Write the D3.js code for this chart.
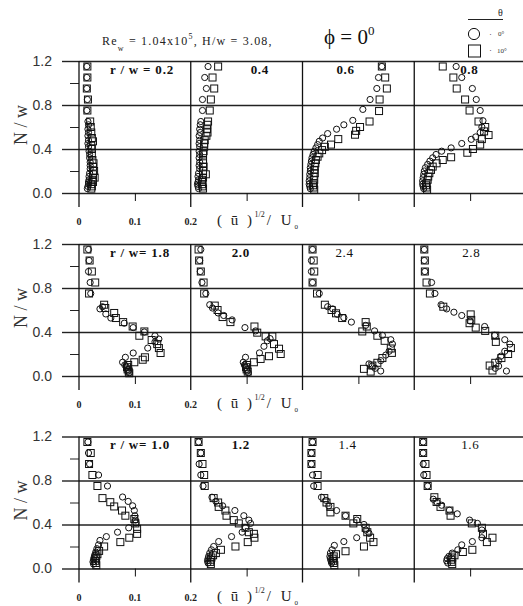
<!DOCTYPE html>
<html><head><meta charset="utf-8">
<script src="https://cdn.jsdelivr.net/npm/d3@7/dist/d3.min.js"></script>
<style>body{margin:0;background:#fff}svg{display:block}</style>
</head><body>
<script>
// Axis ticks and labels
const yMajor = [0, 0.4, 0.8, 1.2];
const yMinor = [0.2, 0.6, 1.0];
const yTickLabels = ["0.0", "0.4", "0.8", "1.2"];
const xTickValues = [0, 0.1, 0.2];
const xTickLabels = ["0", "0.1", "0.2"];
const rowRadii = [["0.2", "0.4", "0.6", "0.8"], ["1.8", "2.0", "2.4", "2.8"], ["1.0", "1.2", "1.4", "1.6"]];

// Profiles, each point is [N/w, (u)^1/2/U0]; c = theta 0 deg, s = theta 10 deg
const c02 = [[1.15,0.014],[1.05,0.014],[0.95,0.014],[0.85,0.015],[0.75,0.014],[0.65,0.016],[0.62,0.017],[0.58,0.016],[0.55,0.017],[0.52,0.016],[0.48,0.017],[0.45,0.016],[0.42,0.017],[0.38,0.018],[0.35,0.019],[0.32,0.019],[0.28,0.02],[0.25,0.02],[0.22,0.02],[0.18,0.019],[0.15,0.018],[0.12,0.018],[0.1,0.017],[0.08,0.017],[0.06,0.016],[0.04,0.015]];
const s02 = [[1.15,0.015],[1.05,0.015],[0.95,0.014],[0.85,0.016],[0.75,0.015],[0.65,0.02],[0.6,0.021],[0.55,0.022],[0.5,0.023],[0.47,0.025],[0.43,0.022],[0.4,0.023],[0.35,0.023],[0.3,0.024],[0.27,0.026],[0.24,0.025],[0.2,0.027],[0.17,0.025],[0.14,0.028],[0.12,0.024],[0.1,0.025],[0.08,0.022],[0.06,0.023],[0.04,0.022]];
const c04 = [[1.15,0.031],[1.05,0.025],[0.95,0.028],[0.85,0.021],[0.75,0.021],[0.65,0.018],[0.62,0.017],[0.58,0.016],[0.55,0.017],[0.52,0.015],[0.48,0.016],[0.45,0.015],[0.42,0.016],[0.38,0.015],[0.35,0.016],[0.32,0.015],[0.28,0.016],[0.25,0.015],[0.22,0.016],[0.18,0.014],[0.15,0.013],[0.12,0.014],[0.1,0.013],[0.08,0.012],[0.06,0.013],[0.04,0.014]];
const s04 = [[1.15,0.049],[1.05,0.039],[0.95,0.042],[0.85,0.036],[0.75,0.034],[0.65,0.031],[0.62,0.03],[0.58,0.029],[0.55,0.03],[0.52,0.028],[0.48,0.025],[0.45,0.024],[0.42,0.024],[0.38,0.023],[0.35,0.022],[0.3,0.022],[0.27,0.022],[0.24,0.023],[0.2,0.022],[0.17,0.027],[0.14,0.022],[0.12,0.02],[0.1,0.021],[0.08,0.02],[0.06,0.021],[0.04,0.022]];
const c06 = [[1.15,0.142],[1.05,0.136],[0.95,0.133],[0.85,0.121],[0.76,0.108],[0.66,0.09],[0.62,0.074],[0.58,0.061],[0.54,0.045],[0.5,0.036],[0.47,0.03],[0.44,0.027],[0.41,0.024],[0.38,0.021],[0.35,0.019],[0.32,0.017],[0.29,0.016],[0.26,0.015],[0.23,0.014],[0.2,0.014],[0.17,0.013],[0.14,0.013],[0.11,0.012],[0.08,0.012],[0.06,0.013],[0.04,0.014]];
const s06 = [[1.15,0.142],[1.05,0.148],[0.95,0.151],[0.85,0.138],[0.745,0.137],[0.65,0.12],[0.6,0.103],[0.565,0.096],[0.53,0.094],[0.49,0.064],[0.44,0.051],[0.42,0.04],[0.39,0.035],[0.36,0.03],[0.33,0.027],[0.3,0.024],[0.27,0.023],[0.24,0.022],[0.21,0.021],[0.18,0.022],[0.15,0.02],[0.12,0.021],[0.09,0.02],[0.07,0.019],[0.05,0.02],[0.03,0.021]];
const c08 = [[1.15,0.075],[1.05,0.085],[0.95,0.104],[0.85,0.111],[0.75,0.118],[0.657,0.123],[0.6,0.121],[0.55,0.118],[0.51,0.11],[0.488,0.102],[0.45,0.085],[0.41,0.066],[0.38,0.049],[0.35,0.039],[0.32,0.033],[0.29,0.028],[0.26,0.024],[0.23,0.02],[0.2,0.018],[0.17,0.017],[0.14,0.016],[0.11,0.015],[0.08,0.015],[0.06,0.016],[0.04,0.017]];
const s08 = [[1.15,0.051],[1.05,0.07],[0.95,0.076],[0.85,0.091],[0.75,0.099],[0.65,0.115],[0.6,0.127],[0.56,0.125],[0.527,0.133],[0.49,0.121],[0.44,0.118],[0.4,0.105],[0.366,0.095],[0.325,0.066],[0.3,0.051],[0.27,0.04],[0.24,0.033],[0.21,0.03],[0.18,0.027],[0.15,0.025],[0.12,0.024],[0.09,0.022],[0.07,0.021],[0.05,0.022],[0.03,0.023]];

const c18 = [[1.15,0.017],[1.05,0.018],[0.95,0.017],[0.85,0.02],[0.75,0.021],[0.63,0.042],[0.61,0.0375],[0.564,0.048],[0.527,0.057],[0.48,0.081],[0.44,0.097],[0.4,0.117],[0.366,0.136],[0.336,0.143],[0.31,0.136],[0.254,0.123],[0.209,0.097],[0.17,0.083],[0.125,0.078],[0.1,0.082],[0.08,0.085],[0.06,0.087],[0.045,0.088],[0.03,0.09]];
const s18 = [[1.15,0.015],[1.05,0.019],[0.95,0.023],[0.85,0.029],[0.75,0.018],[0.648,0.045],[0.618,0.047],[0.573,0.063],[0.527,0.066],[0.49,0.079],[0.45,0.096],[0.405,0.117],[0.366,0.108],[0.327,0.13],[0.29,0.14],[0.254,0.143],[0.209,0.146],[0.17,0.118],[0.148,0.114],[0.125,0.099],[0.1,0.088],[0.08,0.086],[0.06,0.087],[0.04,0.089],[0.025,0.09]];
const c20 = [[1.15,0.018],[1.05,0.016],[0.95,0.017],[0.85,0.02],[0.75,0.027],[0.648,0.034],[0.618,0.039],[0.573,0.049],[0.55,0.059],[0.51,0.074],[0.44,0.097],[0.41,0.116],[0.34,0.142],[0.32,0.137],[0.27,0.131],[0.21,0.123],[0.17,0.098],[0.125,0.094],[0.1,0.096],[0.08,0.098],[0.06,0.1],[0.045,0.101],[0.03,0.103]];
const s20 = [[1.15,0.014],[1.05,0.015],[0.95,0.018],[0.85,0.023],[0.75,0.024],[0.64,0.043],[0.6,0.048],[0.536,0.057],[0.49,0.071],[0.45,0.114],[0.394,0.119],[0.36,0.134],[0.36,0.146],[0.29,0.149],[0.248,0.158],[0.2,0.161],[0.18,0.14],[0.155,0.125],[0.125,0.113],[0.1,0.101],[0.08,0.099],[0.06,0.1],[0.04,0.102]];
const c24 = [[1.15,0.018],[1.05,0.016],[0.95,0.016],[0.85,0.018],[0.75,0.03],[0.63,0.045],[0.61,0.054],[0.56,0.0625],[0.53,0.074],[0.49,0.0875],[0.46,0.113],[0.41,0.129],[0.37,0.143],[0.33,0.158],[0.29,0.161],[0.225,0.155],[0.19,0.149],[0.14,0.14],[0.11,0.119],[0.09,0.125],[0.07,0.13],[0.045,0.14]];
const s24 = [[1.15,0.018],[1.05,0.02],[0.95,0.021],[0.85,0.018],[0.75,0.026],[0.648,0.04],[0.6,0.052],[0.57,0.06],[0.527,0.071],[0.49,0.113],[0.45,0.115],[0.405,0.107],[0.366,0.134],[0.32,0.147],[0.25,0.158],[0.21,0.16],[0.163,0.143],[0.12,0.134],[0.095,0.125],[0.065,0.11],[0.04,0.122]];
const c28 = [[1.15,0.018],[1.05,0.018],[0.95,0.019],[0.85,0.031],[0.75,0.037],[0.648,0.048],[0.61,0.058],[0.58,0.071],[0.55,0.085],[0.5,0.1],[0.45,0.126],[0.37,0.144],[0.33,0.162],[0.29,0.171],[0.225,0.162],[0.18,0.155],[0.14,0.151],[0.09,0.151],[0.07,0.145],[0.045,0.165]];
const s28 = [[1.15,0.018],[1.05,0.019],[0.95,0.019],[0.85,0.022],[0.75,0.028],[0.63,0.052],[0.56,0.101],[0.51,0.102],[0.48,0.099],[0.44,0.11],[0.41,0.127],[0.366,0.145],[0.31,0.146],[0.254,0.173],[0.2,0.168],[0.163,0.156],[0.12,0.145],[0.095,0.135],[0.05,0.14]];

const c10 = [[1.15,0.016],[1.05,0.017],[0.95,0.019],[0.85,0.035],[0.75,0.051],[0.65,0.078],[0.61,0.088],[0.57,0.096],[0.527,0.099],[0.48,0.1],[0.44,0.101],[0.415,0.102],[0.37,0.089],[0.33,0.069],[0.29,0.049],[0.255,0.0375],[0.215,0.035],[0.18,0.032],[0.15,0.03],[0.12,0.028],[0.1,0.027],[0.08,0.026],[0.06,0.025],[0.04,0.026]];
const s10 = [[1.15,0.015],[1.05,0.021],[0.95,0.018],[0.85,0.024],[0.75,0.033],[0.64,0.042],[0.603,0.056],[0.564,0.063],[0.527,0.077],[0.48,0.083],[0.45,0.099],[0.41,0.101],[0.36,0.104],[0.315,0.104],[0.28,0.09],[0.24,0.074],[0.2,0.045],[0.16,0.036],[0.13,0.033],[0.11,0.031],[0.09,0.03],[0.07,0.029],[0.05,0.03],[0.03,0.031]];
const c12 = [[1.15,0.014],[1.05,0.018],[0.95,0.015],[0.85,0.018],[0.75,0.022],[0.648,0.038],[0.61,0.045],[0.57,0.057],[0.527,0.079],[0.48,0.095],[0.44,0.104],[0.41,0.107],[0.37,0.098],[0.33,0.092],[0.29,0.073],[0.245,0.05],[0.2,0.041],[0.17,0.037],[0.14,0.034],[0.11,0.032],[0.09,0.031],[0.07,0.03],[0.05,0.031]];
const s12 = [[1.15,0.014],[1.05,0.018],[0.95,0.021],[0.85,0.024],[0.75,0.025],[0.64,0.041],[0.6,0.049],[0.56,0.05],[0.527,0.062],[0.48,0.064],[0.44,0.077],[0.41,0.086],[0.37,0.098],[0.33,0.104],[0.315,0.113],[0.28,0.114],[0.24,0.102],[0.2,0.08],[0.17,0.054],[0.14,0.045],[0.12,0.04],[0.1,0.037],[0.08,0.036],[0.06,0.035],[0.04,0.036]];
const c14 = [[1.15,0.018],[1.05,0.016],[0.95,0.016],[0.85,0.018],[0.75,0.02],[0.648,0.034],[0.62,0.042],[0.57,0.047],[0.527,0.061],[0.48,0.077],[0.44,0.097],[0.4,0.11],[0.35,0.113],[0.32,0.119],[0.28,0.097],[0.245,0.074],[0.21,0.057],[0.17,0.053],[0.14,0.05],[0.11,0.049],[0.09,0.05],[0.07,0.051],[0.05,0.052]];
const s14 = [[1.15,0.018],[1.05,0.016],[0.95,0.016],[0.85,0.027],[0.75,0.027],[0.64,0.039],[0.6,0.043],[0.56,0.05],[0.51,0.05],[0.48,0.077],[0.45,0.098],[0.41,0.091],[0.37,0.113],[0.33,0.116],[0.28,0.121],[0.24,0.127],[0.2,0.11],[0.157,0.077],[0.13,0.06],[0.11,0.056],[0.09,0.054],[0.07,0.055],[0.05,0.056],[0.03,0.057]];
const c16 = [[1.15,0.016],[1.05,0.016],[0.95,0.016],[0.85,0.017],[0.75,0.024],[0.63,0.034],[0.6,0.041],[0.575,0.049],[0.53,0.063],[0.497,0.077],[0.44,0.099],[0.41,0.113],[0.35,0.121],[0.28,0.121],[0.245,0.104],[0.215,0.085],[0.17,0.078],[0.14,0.068],[0.11,0.062],[0.09,0.059],[0.07,0.058],[0.05,0.06]];
const s16 = [[1.15,0.016],[1.05,0.016],[0.95,0.02],[0.85,0.022],[0.75,0.024],[0.648,0.036],[0.605,0.04],[0.56,0.047],[0.527,0.063],[0.48,0.065],[0.41,0.103],[0.37,0.121],[0.315,0.123],[0.28,0.14],[0.24,0.13],[0.17,0.104],[0.15,0.087],[0.12,0.072],[0.1,0.068],[0.08,0.066],[0.06,0.067],[0.04,0.068]];

const profiles = {
  "0.2": [c02, s02], "0.4": [c04, s04], "0.6": [c06, s06], "0.8": [c08, s08],
  "1.8": [c18, s18], "2.0": [c20, s20], "2.4": [c24, s24], "2.8": [c28, s28],
  "1.0": [c10, s10], "1.2": [c12, s12], "1.4": [c14, s14], "1.6": [c16, s16]
};

// Layout
const W = 523, H = 606;
const rowBottoms = [193, 376, 568.5];
const rowHeight = 132;
const panelLeft = d3.scaleLinear().domain([0, 4]).range([79, 526]);
const labelDx = [[0, 60, 34, 46], [0, 41, 33, 48], [0, 41, 36, 47]];
const boldLabel = [[true, true, true, true], [true, true, false, false], [true, true, false, false]];
const serif = "'Liberation Serif', 'Times New Roman', serif";
const sans = "'Liberation Sans', Arial, sans-serif";

const svg = d3.select("body").append("svg").attr("width", W).attr("height", H);

rowRadii.forEach((radii, ri) => {
  const bottom = rowBottoms[ri];
  const y = d3.scaleLinear().domain([0, 1.2]).range([bottom, bottom - rowHeight]);
  const g = svg.append("g");

  // horizontal grid lines across all panels
  g.append("g").attr("transform", "translate(79,0)")
    .call(d3.axisLeft(y).tickValues(yMajor).tickSize(-(W - 79)).tickFormat(""))
    .call(a => a.select(".domain").remove())
    .call(a => a.selectAll("line").attr("stroke", "#222").attr("stroke-width", 1.4));

  // labelled y ticks
  g.append("g").attr("transform", "translate(79,0)")
    .call(d3.axisLeft(y).tickValues(yMajor).tickSize(17).tickPadding(10)
      .tickFormat((d, i) => yTickLabels[i]))
    .call(a => a.select(".domain").remove())
    .call(a => a.selectAll("line").attr("stroke", "#222").attr("stroke-width", 1.4))
    .call(a => a.selectAll("text").attr("font-family", sans).attr("font-size", 14).attr("fill", "#333"));

  // minor y ticks
  g.append("g").attr("transform", "translate(79,0)")
    .call(d3.axisLeft(y).tickValues(yMinor).tickSize(9).tickFormat(""))
    .call(a => a.select(".domain").remove())
    .call(a => a.selectAll("line").attr("stroke", "#222").attr("stroke-width", 1));

  // y title
  g.append("text")
    .attr("transform", `translate(27,${bottom - 68}) rotate(-90)`)
    .attr("text-anchor", "middle")
    .attr("font-family", serif).attr("font-size", 18).attr("fill", "#333")
    .text("N / w");

  radii.forEach((r, pi) => {
    const left = panelLeft(pi);
    const x = d3.scaleLinear().domain([0, 0.2]).range([left, panelLeft(pi + 1)]);

    // panel separator
    g.append("line")
      .attr("x1", left).attr("x2", left)
      .attr("y1", y(1.2)).attr("y2", bottom + 14)
      .attr("stroke", "#111").attr("stroke-width", 1.3);

    // mid tick
    g.append("g").attr("transform", `translate(0,${bottom})`)
      .call(d3.axisBottom(x).tickValues([0.1]).tickSize(8).tickFormat(""))
      .call(a => a.select(".domain").remove())
      .call(a => a.selectAll("line").attr("stroke", "#111").attr("stroke-width", 1));

    const [circ, sq] = profiles[r];
    const sqSize = 7;
    g.append("g").selectAll("rect").data(sq).join("rect")
      .attr("x", d => x(d[1]) - sqSize / 2).attr("y", d => y(d[0]) - sqSize / 2)
      .attr("width", sqSize).attr("height", sqSize)
      .attr("fill", "none").attr("stroke", "#111").attr("stroke-width", 1);
    g.append("g").selectAll("circle").data(circ).join("circle")
      .attr("cx", d => x(d[1])).attr("cy", d => y(d[0])).attr("r", 3.1)
      .attr("fill", "none").attr("stroke", "#111").attr("stroke-width", 1);

    // panel label
    let label = r;
    if (pi === 0) label = ri === 0 ? "r / w = " + r : "r / w= " + r;
    g.append("text")
      .attr("x", pi === 0 ? left + 31 : left + labelDx[ri][pi])
      .attr("y", y(1.2) + 12.5)
      .attr("font-family", serif).attr("font-size", 13)
      .attr("font-weight", boldLabel[ri][pi] ? "bold" : "normal")
      .attr("letter-spacing", pi === 0 ? 0.8 : 0.6)
      .attr("fill", "#111")
      .text(label);

    // x tick labels under the first panel
    if (pi === 0) {
      g.selectAll(null).data(xTickValues).join("text")
        .attr("x", d => x(d)).attr("y", bottom + 32)
        .attr("text-anchor", "middle")
        .attr("font-family", serif).attr("font-size", 10).attr("font-weight", "bold")
        .attr("fill", "#222")
        .text((d, i) => xTickLabels[i]);
    }
  });

  // x title
  const t = g.append("text").attr("x", 217).attr("y", bottom + 32)
    .attr("font-family", serif).attr("fill", "#222");
  t.append("tspan").attr("font-size", 15).attr("letter-spacing", 2.5).text("( ū )");
  t.append("tspan").attr("font-size", 8).attr("dy", -8).text("1/2");
  t.append("tspan").attr("font-size", 15).attr("dy", 8).attr("dx", 2).attr("letter-spacing", 3).text("/ U");
  t.append("tspan").attr("font-size", 7).attr("dy", 4).text("0");
});

// header
const hdr = svg.append("text").attr("x", 102).attr("y", 44.5)
  .attr("font-family", serif).attr("font-size", 12).attr("letter-spacing", 1.2).attr("fill", "#222");
hdr.append("tspan").text("Re");
hdr.append("tspan").attr("font-size", 8).attr("dy", 6).text("w");
hdr.append("tspan").attr("dy", -6).text(" = 1.04x10");
hdr.append("tspan").attr("font-size", 8).attr("dy", -6).text("5");
hdr.append("tspan").attr("dy", 6).text(", H/w = 3.08,");

const phi = svg.append("text").attr("x", 324).attr("y", 44)
  .attr("font-family", serif).attr("font-size", 21).attr("fill", "#111");
phi.append("tspan").text("ϕ = 0");
phi.append("tspan").attr("font-size", 13).attr("dy", -9).text("0");

// legend
const lg = svg.append("g");
lg.append("line").attr("x1", 468).attr("x2", 503).attr("y1", 19.5).attr("y2", 19.5)
  .attr("stroke", "#222").attr("stroke-width", 1);
lg.append("text").attr("x", 498).attr("y", 16).attr("font-family", serif).attr("font-size", 10)
  .attr("fill", "#222").text("θ");
lg.append("circle").attr("cx", 474).attr("cy", 34).attr("r", 5.6)
  .attr("fill", "none").attr("stroke", "#111").attr("stroke-width", 1);
lg.append("rect").attr("x", 468.5).attr("y", 45).attr("width", 12).attr("height", 12)
  .attr("fill", "none").attr("stroke", "#111").attr("stroke-width", 1);
lg.append("text").attr("x", 489).attr("y", 37).attr("font-family", serif).attr("font-size", 9)
  .attr("fill", "#333").text("·");
lg.append("text").attr("x", 498).attr("y", 36).attr("font-family", serif).attr("font-size", 7)
  .attr("fill", "#333").text("0°");
lg.append("text").attr("x", 489).attr("y", 53).attr("font-family", serif).attr("font-size", 9)
  .attr("fill", "#333").text("·");
lg.append("text").attr("x", 497).attr("y", 53).attr("font-family", serif).attr("font-size", 7)
  .attr("fill", "#333").text("10°");
</script>
</body></html>
